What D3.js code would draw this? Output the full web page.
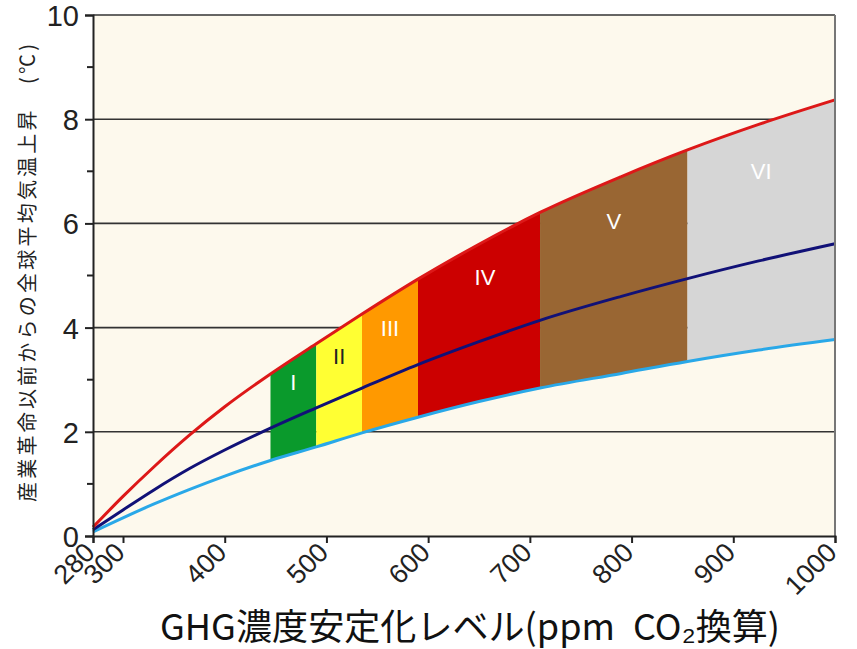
<!DOCTYPE html>
<html>
<head>
<meta charset="utf-8">
<script src="https://cdn.jsdelivr.net/npm/d3@7"></script>
<style>
  body { margin: 0; background: #fff; }
  svg { display: block; }
</style>
</head>
<body>
<div id="chart"></div>
<script>
// values (ppm CO2-eq -> deg C)
var ppm    = [280, 300, 330, 365, 400, 445, 490, 535, 590, 650, 710, 790, 855, 925, 1000];
var upperT = [0.17, 0.76, 1.32, 1.93, 2.48, 3.11, 3.69, 4.26, 4.93, 5.60, 6.21, 6.90, 7.41, 7.90, 8.37];
var bestT  = [0.12, 0.50, 0.88, 1.29, 1.65, 2.07, 2.46, 2.84, 3.29, 3.73, 4.14, 4.60, 4.94, 5.28, 5.61];
var lowerT = [0.08, 0.35, 0.61, 0.89, 1.15, 1.45, 1.71, 1.98, 2.28, 2.58, 2.84, 3.12, 3.35, 3.57, 3.77];

// stabilisation categories
var bandNames  = ["I", "II", "III", "IV", "V", "VI"];
var bandFrom   = [445, 490, 535, 590, 710, 855];
var bandTo     = [490, 535, 590, 710, 855, 1130];
var bandColors = ["#0a9a2c", "#ffff33", "#ff9900", "#cc0000", "#996633", "#d6d6d6"];
var bandText   = ["#ffffff", "#222222", "#ffffff", "#ffffff", "#ffffff", "#ffffff"];

var xTicks = [280, 300, 400, 500, 600, 700, 800, 900, 1000];
var yMajor = [0, 2, 4, 6, 8, 10];
var yMinor = [1, 3, 5, 7, 9];
var yGrid  = [2, 4, 6, 8];

var W = 857, H = 649;
var mLeft = 93, mRight = 835, mTop = 15, mBottom = 536;

var svg = d3.select("#chart").append("svg")
    .attr("width", W)
    .attr("height", H);

// the axis in the original is squeezed between 280 and 300
var x = d3.scaleLinear().domain([280, 300, 1000]).range([mLeft, mLeft + 30, mRight]);
var y = d3.scaleLinear().domain([0, 10]).range([mBottom, mTop]);

var rows = ppm.map(function(p, i){ return {p: p, lo: lowerT[i], mid: bestT[i], hi: upperT[i]}; });

svg.append("rect")
    .attr("x", mLeft).attr("y", mTop)
    .attr("width", mRight - mLeft).attr("height", mBottom - mTop)
    .attr("fill", "#fdf9ed");

var defs = svg.append("defs");
defs.append("clipPath").attr("id", "plotclip")
  .append("rect")
    .attr("x", mLeft).attr("y", mTop)
    .attr("width", mRight - mLeft).attr("height", mBottom - mTop);

// grid
svg.append("g").selectAll("line")
    .data(yGrid)
  .enter().append("line")
    .attr("x1", mLeft).attr("x2", mRight)
    .attr("y1", function(d){ return y(d); })
    .attr("y2", function(d){ return y(d); })
    .attr("stroke", "#333")
    .attr("stroke-width", 1.6);

// bands: area between low and high curve, clipped per category
var area = d3.area()
    .x(function(d){ return x(d.p); })
    .y0(function(d){ return y(d.lo); })
    .y1(function(d){ return y(d.hi); })
    .curve(d3.curveMonotoneX);

bandNames.forEach(function(n, i){
  defs.append("clipPath").attr("id", "band" + i)
    .append("rect")
      .attr("x", x(bandFrom[i]))
      .attr("y", mTop)
      .attr("width", Math.min(x(bandTo[i]), mRight) - x(bandFrom[i]))
      .attr("height", mBottom - mTop);
});

var bands = svg.append("g").attr("clip-path", "url(#plotclip)");
bands.selectAll("path")
    .data(bandNames)
  .enter().append("path")
    .attr("d", area(rows))
    .attr("clip-path", function(d, i){ return "url(#band" + i + ")"; })
    .attr("fill", function(d, i){ return bandColors[i]; });

// curves
function curveOf(key){
  return d3.line()
    .x(function(d){ return x(d.p); })
    .y(function(d){ return y(d[key]); })
    .curve(d3.curveMonotoneX)(rows);
}
var lines = svg.append("g").attr("fill", "none").attr("stroke-width", 3);
lines.append("path").attr("d", curveOf("lo")).attr("stroke", "#29a8e8");
lines.append("path").attr("d", curveOf("mid")).attr("stroke", "#111177");
lines.append("path").attr("d", curveOf("hi")).attr("stroke", "#dd1818");

// band labels
function interp(arr, p){
  var i = d3.bisectRight(ppm, p) - 1;
  i = Math.max(0, Math.min(i, ppm.length - 2));
  var t = (p - ppm[i]) / (ppm[i + 1] - ppm[i]);
  return arr[i] + t * (arr[i + 1] - arr[i]);
}
svg.append("g").selectAll("text")
    .data(bandNames)
  .enter().append("text")
    .attr("x", function(d, i){
      var mid = (bandFrom[i] + Math.min(bandTo[i], 1000)) / 2;
      return x(mid) + (i == 3 ? 6 : 0);
    })
    .attr("y", function(d, i){
      var mid = (bandFrom[i] + Math.min(bandTo[i], 1000)) / 2;
      var t = y(interp(upperT, mid)), b = y(interp(lowerT, mid));
      return t + (i < 3 ? 0.25 : 0.21) * (b - t);
    })
    .attr("dy", "0.35em")
    .attr("text-anchor", "middle")
    .attr("font-family", "Liberation Sans, Arial, sans-serif")
    .attr("font-size", 22)
    .attr("fill", function(d, i){ return bandText[i]; })
    .text(function(d){ return d; });

// frame
svg.append("line").attr("x1", mLeft).attr("x2", mRight).attr("y1", mTop).attr("y2", mTop)
    .attr("stroke", "#333").attr("stroke-width", 1.6);
svg.append("line").attr("x1", mRight).attr("x2", mRight).attr("y1", mTop).attr("y2", mBottom)
    .attr("stroke", "#777").attr("stroke-width", 2);

// y axis
var yAxis = d3.axisLeft(y).tickValues(yMajor).tickSize(8).tickPadding(6).tickFormat(d3.format("d"));
var gy = svg.append("g").attr("transform", "translate(" + mLeft + ",0)").call(yAxis);
gy.select(".domain").attr("stroke", "#222").attr("stroke-width", 2);
gy.selectAll(".tick line").attr("stroke", "#222").attr("stroke-width", 2);
gy.selectAll("text")
    .attr("font-family", "Liberation Sans, Arial, sans-serif")
    .attr("font-size", 29)
    .attr("dy", "0.36em")
    .attr("fill", "#222");
gy.selectAll(".minor")
    .data(yMinor)
  .enter().append("line")
    .attr("class", "minor")
    .attr("x1", -6).attr("x2", 0)
    .attr("y1", function(d){ return y(d); })
    .attr("y2", function(d){ return y(d); })
    .attr("stroke", "#222").attr("stroke-width", 2);

// x axis
var xAxis = d3.axisBottom(x).tickValues(xTicks).tickSize(7).tickFormat(d3.format("d"));
var gx = svg.append("g").attr("transform", "translate(0," + mBottom + ")").call(xAxis);
gx.select(".domain").attr("stroke", "#222").attr("stroke-width", 2);
gx.selectAll(".tick line").attr("stroke", "#222").attr("stroke-width", 2);
gx.selectAll("text")
    .attr("font-family", "Liberation Sans, Arial, sans-serif")
    .attr("font-size", 27)
    .attr("fill", "#222")
    .attr("text-anchor", "end")
    .attr("dy", null)
    .attr("y", null)
    .attr("transform", "translate(3,18) rotate(-45)");

// titles
svg.append("text")
    .attr("x", 470)
    .attr("y", 640)
    .attr("text-anchor", "middle")
    .attr("font-family", "Noto Sans CJK JP, sans-serif")
    .attr("font-size", 36)
    .attr("fill", "#111")
    .attr("textLength", 620)
    .attr("lengthAdjust", "spacingAndGlyphs")
    .text("GHG濃度安定化レベル(ppm\u2002CO₂換算)");

svg.append("text")
    .attr("transform", "translate(35,273) rotate(-90)")
    .attr("text-anchor", "middle")
    .attr("font-family", "Noto Sans CJK JP, sans-serif")
    .attr("font-size", 20)
    .attr("fill", "#222")
    .attr("textLength", 458)
    .attr("lengthAdjust", "spacing")
    .text("産業革命以前からの全球平均気温上昇\u3000(℃)");
</script>
</body>
</html>
